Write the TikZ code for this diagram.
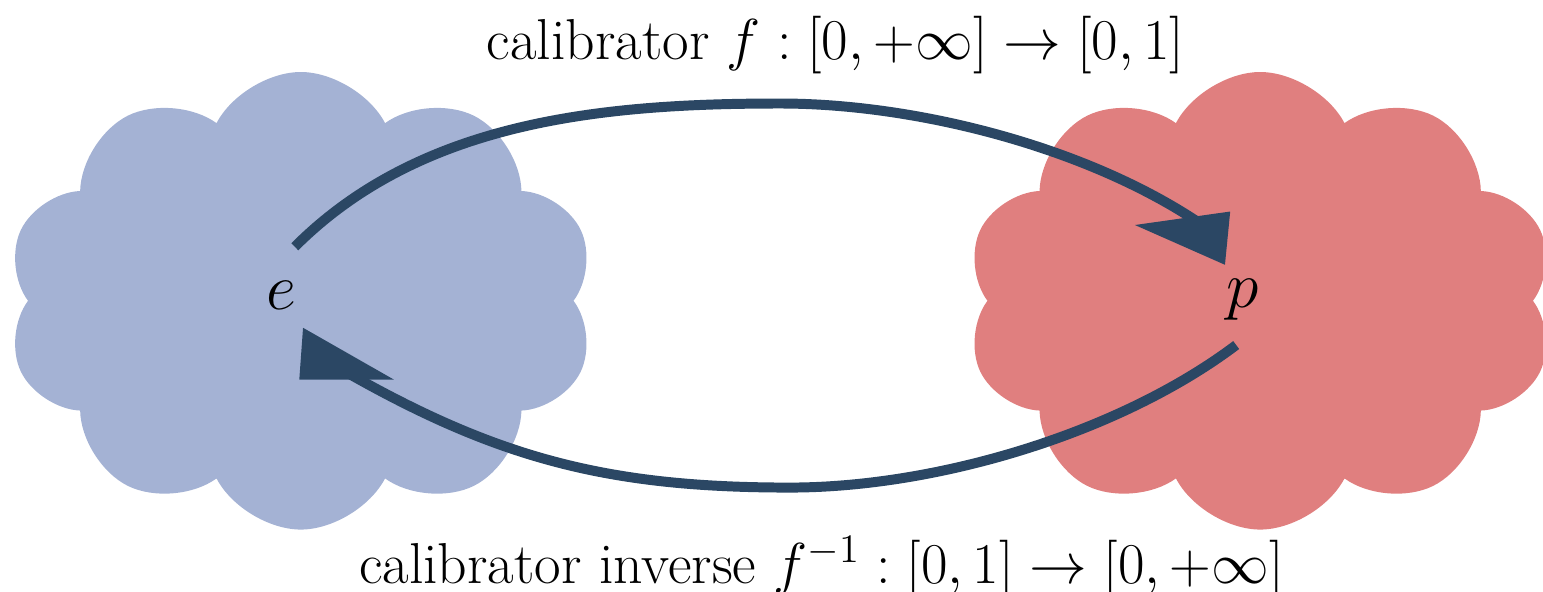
\RequirePackage{fix-cm}
\documentclass[tikz,border=0pt]{standalone}
\usepackage{amsmath, amssymb}
\usetikzlibrary{shapes.symbols}
\definecolor{cloudblue}{HTML}{A4B2D4}
\definecolor{cloudred}{HTML}{E07F7F}
\definecolor{arrowblue}{HTML}{2B4764}
\tikzset{
  blob/.style={cloud, cloud puffs=10, cloud puff arc=125, aspect=1.3,
    minimum width=7.85cm, minimum height=6.1cm, inner sep=0pt},
  letter/.style={font=\fontsize{24.9}{30}\selectfont},
  maplabel/.style={font=\fontsize{21.9}{26}\selectfont, inner sep=0pt},
  calib/.style={line width=1.33mm, arrowblue},
  head/.style={fill=arrowblue}
}

\begin{document}
\begin{tikzpicture}
  \useasboundingbox (0,0) rectangle (20.57,7.89);
  % the two clouds
  \node[blob, fill=cloudblue] (ecloud) at (4.01,3.88) {};
  \node[blob, fill=cloudred, shape border rotate=15] (pcloud) at (16.80,3.88) {};
  % the two quantities
  \node[letter] (e) at (3.75,3.95) {$e$};
  \node[letter] (p) at (16.56,3.90) {$p$};
  % arrow ends and turning points
  \coordinate (eout) at (3.93,4.60);
  \coordinate (toppeak) at (10.40,6.51);
  \coordinate (pin) at (16.00,4.91);
  \coordinate (pout) at (16.48,3.29);
  \coordinate (botpeak) at (10.53,1.39);
  \coordinate (ein) at (4.49,3.00);
  % calibrator and its inverse
  \draw[calib] (eout) to[out=45, in=180, looseness=0.9] (toppeak)
    to[out=0, in=146, looseness=0.8] (pin);
  \draw[calib] (pout) to[out=217, in=0, looseness=0.8] (botpeak)
    to[out=180, in=-30] (ein);
  % heads
  \fill[head] (15.13,4.89) -- (16.40,5.07) -- (16.33,4.36) -- cycle;
  \fill[head] (5.25,2.83) -- (4.04,3.52) -- (3.99,2.83) -- cycle;
  \node[maplabel] (top) at (11.14,7.29) {calibrator $f:[0,+\infty]\to[0,1]$};
  \node[maplabel] (bottom) at (10.95,0.33) {calibrator inverse $f^{-1}:[0,1]\to[0,+\infty]$};
\end{tikzpicture}
\end{document}
